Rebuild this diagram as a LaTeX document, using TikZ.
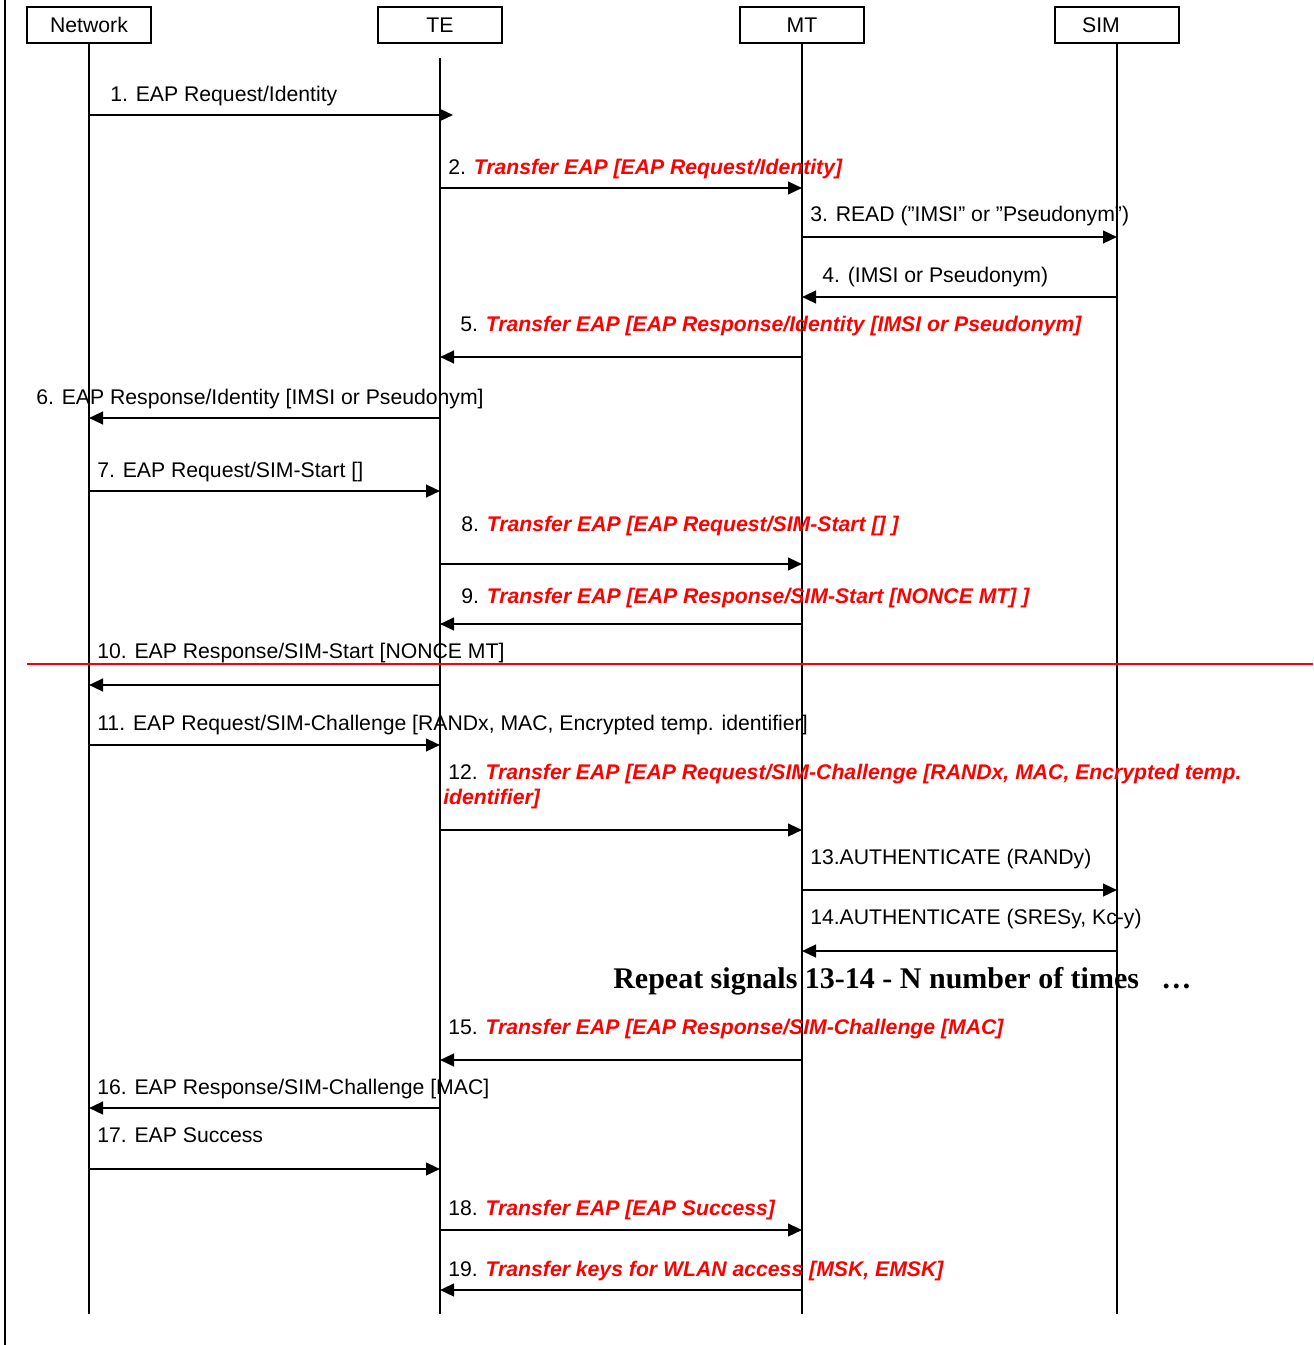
\documentclass[tikz,border=0pt]{standalone}
\usepackage{fontspec}
\setmainfont{Liberation Sans}
\newfontfamily\serifbold{Liberation Serif}
\usetikzlibrary{arrows.meta}
\newcommand\redbi[1]{\textcolor{red}{\bfseries\itshape #1}}
\begin{document}
\begin{tikzpicture}[x=0.75pt,y=-0.75pt,
  actor/.style={draw,line width=0.9pt,minimum width=93pt,minimum height=27pt,inner sep=0pt,font=\fontsize{15.9}{18}\selectfont},
  life/.style={line width=0.8pt},
  msg/.style={line width=1.7pt,-{Triangle[length=10.5pt,width=9.5pt]}},
  lbl/.style={anchor=base west,inner sep=0pt,font=\fontsize{15.9}{18}\selectfont}
]
\useasboundingbox (0,0) rectangle (1313,1345);
\draw[line width=1.5pt] (5,0) -- (5,1345);
% actors
\node[actor] (net) at (89,25) {Network};
\node[actor] (te)  at (440,25) {TE};
\node[actor] (mt)  at (802,25) {MT};
\node[actor] (sim) at (1117,25) {SIM\rule{24pt}{0pt}};
% lifelines
\draw[life] (net.south) -- (net |- 0,1314);
\draw[life] (te |- 0,58) -- (te |- 0,1314);
\draw[life] (mt.south) -- (mt |- 0,1314);
\draw[life] (sim.south) -- (sim |- 0,1314);
% red separator
\draw[red,line width=1.5pt] (27,664) -- (1313,664);
% messages
\coordinate (m1end) at (453,115);
\draw[msg] (net |- 0,115) -- (m1end);
\node[lbl] (l1) at (110,102) {1. EAP Request/Identity};
\draw[msg] (te |- 0,188) -- (mt |- 0,188);
\node[lbl] (l2) at (448,174) {2. \redbi{Transfer EAP [EAP Request/Identity]}};
\draw[msg] (mt |- 0,237) -- (sim |- 0,237);
\node[lbl] (l3) at (810,221) {3. READ (”IMSI” or ”Pseudonym”)};
\draw[msg] (sim |- 0,297) -- (mt |- 0,297);
\node[lbl] (l4) at (822,282) {4. (IMSI or Pseudonym)};
\draw[msg] (mt |- 0,357) -- (te |- 0,357);
\node[lbl] (l5) at (460,331) {5. \redbi{Transfer EAP [EAP Response/Identity [IMSI or Pseudonym]}};
\draw[msg] (te |- 0,418) -- (net |- 0,418);
\node[lbl] (l6) at (36,404) {6. EAP Response/Identity [IMSI or Pseudonym]};
\draw[msg] (net |- 0,491) -- (te |- 0,491);
\node[lbl] (l7) at (97,477) {7. EAP Request/SIM-Start []};
\draw[msg] (te |- 0,564) -- (mt |- 0,564);
\node[lbl] (l8) at (461,531) {8. \redbi{Transfer EAP [EAP Request/SIM-Start [] ]}};
\draw[msg] (mt |- 0,624) -- (te |- 0,624);
\node[lbl] (l9) at (461,603) {9. \redbi{Transfer EAP [EAP Response/SIM-Start [NONCE MT] ]}};
\draw[msg] (te |- 0,685) -- (net |- 0,685);
\node[lbl] (l10) at (97,658) {10. EAP Response/SIM-Start [NONCE MT]};
\draw[msg] (net |- 0,745) -- (te |- 0,745);
\node[lbl] (l11) at (97,730) {11. EAP Request/SIM-Challenge [RANDx, MAC, Encrypted temp. identifier]};
\draw[msg] (te |- 0,830) -- (mt |- 0,830);
\node[lbl] (l12) at (448,779) {12. \redbi{Transfer EAP [EAP Request/SIM-Challenge [RANDx, MAC, Encrypted temp.}};
\node[lbl] (l12b) at (443,804) {\redbi{identifier]}};
\draw[msg] (mt |- 0,890) -- (sim |- 0,890);
\node[lbl] (l13) at (810,864) {13.AUTHENTICATE (RANDy)};
\draw[msg] (sim |- 0,951) -- (mt |- 0,951);
\node[lbl] (l14) at (810,924) {14.AUTHENTICATE (SRESy, Kc-y)};
\node[anchor=base west,inner sep=0pt,font=\serifbold\bfseries\fontsize{22.5}{26}\selectfont] (rep) at (613,988) {Repeat signals 13-14 - N number of times};
\node[anchor=base west,inner sep=0pt,font=\serifbold\bfseries\fontsize{22.5}{26}\selectfont] (dots) at (1161,988) {…};
\draw[msg] (mt |- 0,1060) -- (te |- 0,1060);
\node[lbl] (l15) at (448,1034) {15. \redbi{Transfer EAP [EAP Response/SIM-Challenge [MAC]}};
\draw[msg] (te |- 0,1108) -- (net |- 0,1108);
\node[lbl] (l16) at (97,1094) {16. EAP Response/SIM-Challenge [MAC]};
\draw[msg] (net |- 0,1169) -- (te |- 0,1169);
\node[lbl] (l17) at (97,1142) {17. EAP Success};
\draw[msg] (te |- 0,1230) -- (mt |- 0,1230);
\node[lbl] (l18) at (448,1215) {18. \redbi{Transfer EAP [EAP Success]}};
\draw[msg] (mt |- 0,1290) -- (te |- 0,1290);
\node[lbl] (l19) at (448,1276) {19. \redbi{Transfer keys for WLAN access [MSK, EMSK]}};
\end{tikzpicture}
\end{document}
